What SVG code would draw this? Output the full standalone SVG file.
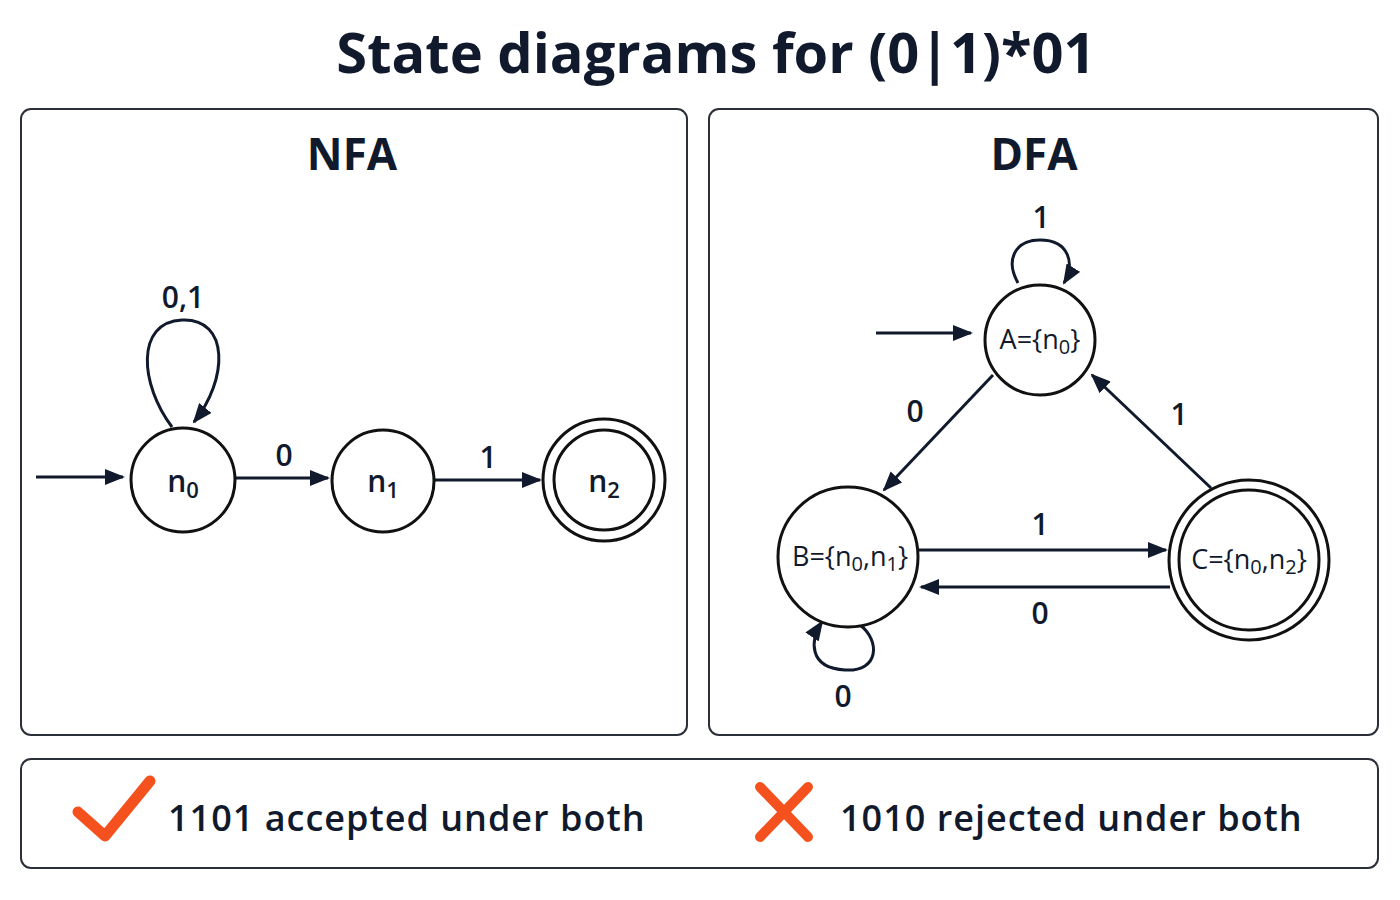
<svg xmlns="http://www.w3.org/2000/svg" width="1400" height="900" viewBox="0 0 1400 900">
<defs>
<marker id="a" viewBox="0 0 20 16" refX="18" refY="8" markerWidth="20" markerHeight="16" orient="auto" markerUnits="userSpaceOnUse">
<path d="M0,0 L20,8 L0,16 Z" fill="#111a2c"/>
</marker>
</defs>
<style>
.panel{fill:#fff;stroke:#2a2f38;stroke-width:2}
.st{fill:#fff;stroke:#111;stroke-width:3}
.e{fill:none;stroke:#111a2c;stroke-width:3;marker-end:url(#a)}
text{font-family:"Open Sans","Noto Sans",sans-serif;fill:#111a2c}
.h{font-size:44px;font-weight:700;text-anchor:middle}
.n{font-size:30px;font-weight:600;text-anchor:middle}
.d{font-size:27px;text-anchor:middle}
.l{font-size:30px;font-weight:600;text-anchor:middle}
.b{font-size:36px;font-weight:600;letter-spacing:1px}
</style>
<rect width="1400" height="900" fill="#fff"/>
<text x="716" y="73" style="font-size:56px;font-weight:700;text-anchor:middle">State diagrams for (0|1)*01</text>
<rect class="panel" x="21" y="109" width="666" height="626" rx="10"/>
<rect class="panel" x="709" y="109" width="669" height="626" rx="10"/>
<rect class="panel" x="21" y="759" width="1357" height="109" rx="10"/>
<text class="h" x="352" y="170">NFA</text>
<text class="h" x="1034" y="170">DFA</text>
<g id="connectors">
<path class="e" d="M36,477 L123,477"/>
<path class="e" d="M172,427 C140,385 135,322 182,320 C230,318 228,380 194,422"/>
<path class="e" d="M235,478 L328,478"/>
<path class="e" d="M434,480 L540,480"/>
<path class="e" d="M876,333 L971,333"/>
<path class="e" d="M1018,283 C1005,260 1015,240 1040,240 C1070,240 1075,265 1064,283"/>
<path class="e" d="M993,375 L884,490"/>
<path class="e" d="M1211,488 L1092,375"/>
<path class="e" d="M919,550 L1166,550"/>
<path class="e" d="M1170,587 L921,587"/>
<path class="e" d="M860,625 C880,640 880,672 845,670 C808,668 810,640 822,622"/>
</g>
<text class="l" x="183" y="308">0,1</text>
<text class="l" x="284" y="466">0</text>
<text class="l" x="488" y="468">1</text>
<text class="l" x="1041" y="228">1</text>
<text class="l" x="915" y="422">0</text>
<text class="l" x="1179" y="425">1</text>
<text class="l" x="1040" y="535">1</text>
<text class="l" x="1040" y="624">0</text>
<text class="l" x="843" y="707">0</text>
<g id="n0"><circle class="st" cx="183" cy="480" r="52"/><text class="n" x="183" y="492">n<tspan font-size="22" dy="6">0</tspan></text></g>
<g id="n1"><circle class="st" cx="383" cy="481" r="51"/><text class="n" x="383" y="492">n<tspan font-size="22" dy="6">1</tspan></text></g>
<g id="n2"><circle class="st" cx="604" cy="480" r="61"/><circle class="st" cx="604" cy="480" r="50"/><text class="n" x="604" y="492">n<tspan font-size="22" dy="6">2</tspan></text></g>
<g id="A"><circle class="st" cx="1040" cy="340" r="55"/><text class="d" x="1040" y="349">A={n<tspan font-size="20" dy="5">0</tspan><tspan dy="-5">}</tspan></text></g>
<g id="B"><circle class="st" cx="848" cy="557" r="70"/><text class="d" x="850" y="566">B={n<tspan font-size="20" dy="5">0</tspan><tspan dy="-5">,n</tspan><tspan font-size="20" dy="5">1</tspan><tspan dy="-5">}</tspan></text></g>
<g id="C"><circle class="st" cx="1249" cy="560" r="80"/><circle class="st" cx="1249" cy="560" r="70"/><text class="d" x="1249" y="569">C={n<tspan font-size="20" dy="5">0</tspan><tspan dy="-5">,n</tspan><tspan font-size="20" dy="5">2</tspan><tspan dy="-5">}</tspan></text></g>
<g id="legend">
<path d="M78,812 L105,836 L150,781" fill="none" stroke="#f4511e" stroke-width="11" stroke-linecap="round" stroke-linejoin="round"/>
<text class="b" x="168" y="831">1101 accepted under both</text>
<path d="M760,787 L808,837 M808,787 L760,837" fill="none" stroke="#f4511e" stroke-width="10" stroke-linecap="round"/>
<text class="b" x="840" y="831">1010 rejected under both</text>
</g>
</svg>
